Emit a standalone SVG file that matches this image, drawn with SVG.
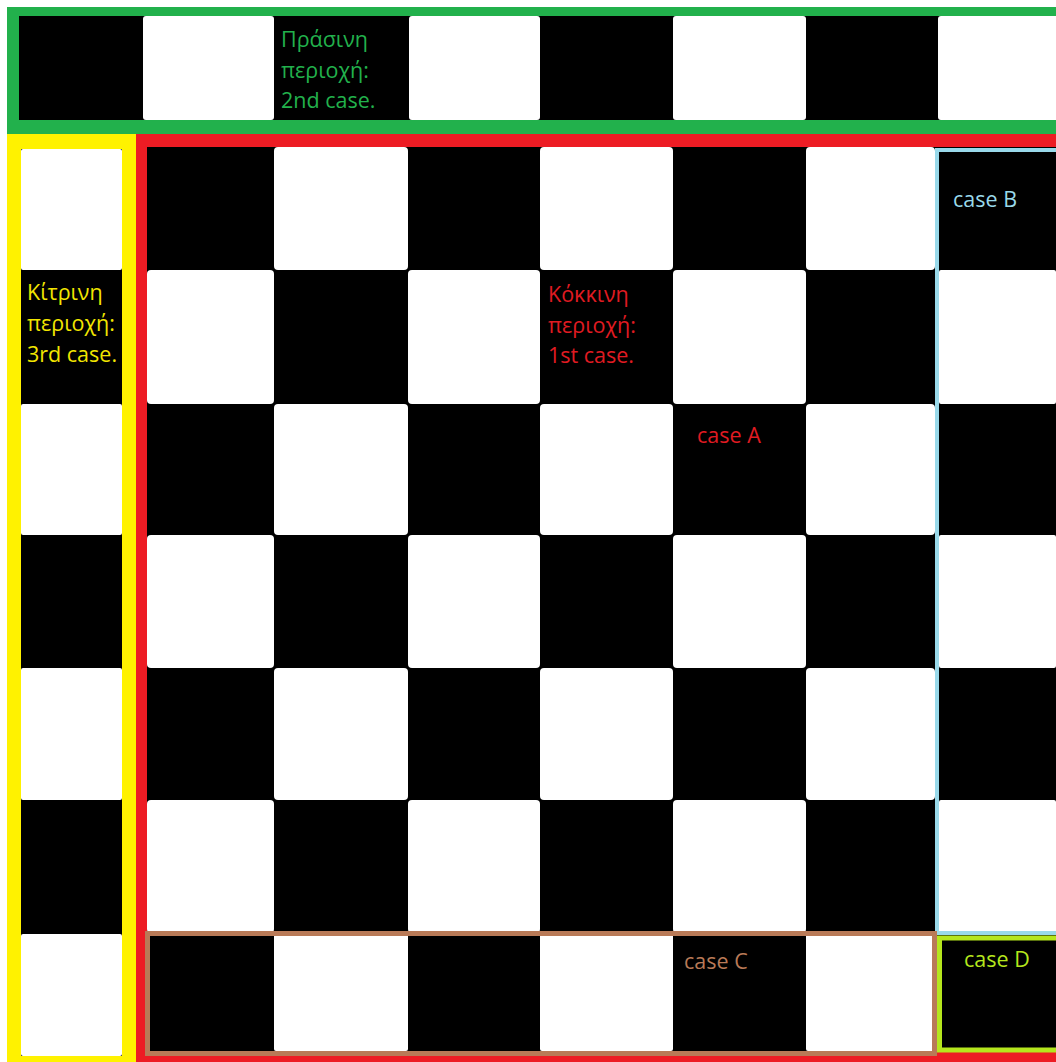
<svg xmlns="http://www.w3.org/2000/svg" width="1056" height="1062" viewBox="0 0 1056 1062">
<style>
.w{fill:#ffffff}
.b{fill:#000000}
.t{font-family:"Open Sans","Noto Sans","DejaVu Sans",sans-serif;font-size:21.5px}
</style>
<rect x="0" y="0" width="1056" height="1062" fill="#ffffff"/>
<g id="green-region">
<rect x="7" y="7" width="1049" height="127" fill="#22b14c"/>
<rect class="b" x="19" y="16" width="1037" height="104"/>
<rect class="w" x="143" y="16" width="131" height="104" rx="3"/>
<rect class="w" x="409" y="16" width="131" height="104" rx="3"/>
<rect class="w" x="673" y="16" width="133" height="104" rx="3"/>
<rect class="w" x="938" y="16" width="125" height="104" rx="3"/>
<text class="t" fill="#22b14c" x="281" y="47">Πράσινη</text>
<text class="t" fill="#22b14c" x="281" y="78">περιοχή:</text>
<text class="t" fill="#22b14c" x="281" y="108">2nd case.</text>
</g>
<g id="yellow-region">
<rect x="7" y="134" width="129" height="928" fill="#fff200"/>
<rect class="b" x="21" y="149" width="101" height="907"/>
<rect class="w" x="21" y="149" width="101" height="121" rx="2"/>
<rect class="w" x="21" y="404" width="101" height="131" rx="2"/>
<rect class="w" x="21" y="668" width="101" height="132" rx="2"/>
<rect class="w" x="21" y="934" width="101" height="122" rx="2"/>
<text class="t" fill="#f2e600" x="27" y="300">Κίτρινη</text>
<text class="t" fill="#f2e600" x="27" y="331">περιοχή:</text>
<text class="t" fill="#f2e600" x="27" y="362">3rd case.</text>
</g>
<g id="red-region">
<rect x="136" y="134" width="920" height="928" fill="#ed1c24"/>
<rect class="b" x="147" y="147" width="909" height="904"/>
<rect class="w" x="274" y="147" width="134" height="123" rx="4"/>
<rect class="w" x="540" y="147" width="133" height="123" rx="4"/>
<rect class="w" x="806" y="147" width="129" height="123" rx="4"/>
<rect class="w" x="147" y="270" width="127" height="134" rx="4"/>
<rect class="w" x="408" y="270" width="132" height="134" rx="4"/>
<rect class="w" x="673" y="270" width="133" height="134" rx="4"/>
<rect class="w" x="939" y="270" width="117" height="134" rx="2"/>
<rect class="w" x="274" y="404" width="134" height="131" rx="4"/>
<rect class="w" x="540" y="404" width="133" height="131" rx="4"/>
<rect class="w" x="806" y="404" width="129" height="131" rx="4"/>
<rect class="w" x="147" y="535" width="127" height="133" rx="4"/>
<rect class="w" x="408" y="535" width="132" height="133" rx="4"/>
<rect class="w" x="673" y="535" width="133" height="133" rx="4"/>
<rect class="w" x="939" y="535" width="117" height="133" rx="2"/>
<rect class="w" x="274" y="668" width="134" height="132" rx="4"/>
<rect class="w" x="540" y="668" width="133" height="132" rx="4"/>
<rect class="w" x="806" y="668" width="129" height="132" rx="4"/>
<rect class="w" x="147" y="800" width="127" height="133" rx="4"/>
<rect class="w" x="408" y="800" width="132" height="133" rx="4"/>
<rect class="w" x="673" y="800" width="133" height="133" rx="4"/>
<rect class="w" x="939" y="800" width="117" height="133" rx="2"/>
<rect class="w" x="274" y="933" width="134" height="118" rx="2"/>
<rect class="w" x="540" y="933" width="133" height="118" rx="2"/>
<rect class="w" x="806" y="933" width="129" height="118" rx="2"/>
<text class="t" fill="#e01b22" x="548" y="302">Κόκκινη</text>
<text class="t" fill="#e01b22" x="548" y="333">περιοχή:</text>
<text class="t" fill="#e01b22" x="548" y="363">1st case.</text>
<text class="t" fill="#e01b22" x="697" y="443">case A</text>
</g>
<g id="case-b">
<rect x="937" y="150" width="130" height="783" fill="none" stroke="#99d9ea" stroke-width="4"/>
<text class="t" fill="#99d9ea" x="953" y="207">case B</text>
</g>
<g id="case-c">
<rect x="147.5" y="933.5" width="787" height="120" fill="none" stroke="#b97a57" stroke-width="5"/>
<text class="t" fill="#b97a57" x="684" y="969">case C</text>
</g>
<g id="case-d">
<rect x="939.5" y="938" width="130" height="112" fill="none" stroke="#b5e61d" stroke-width="5"/>
<text class="t" fill="#b5e61d" x="964" y="967">case D</text>
</g>
<g id="connectors"></g>
</svg>
